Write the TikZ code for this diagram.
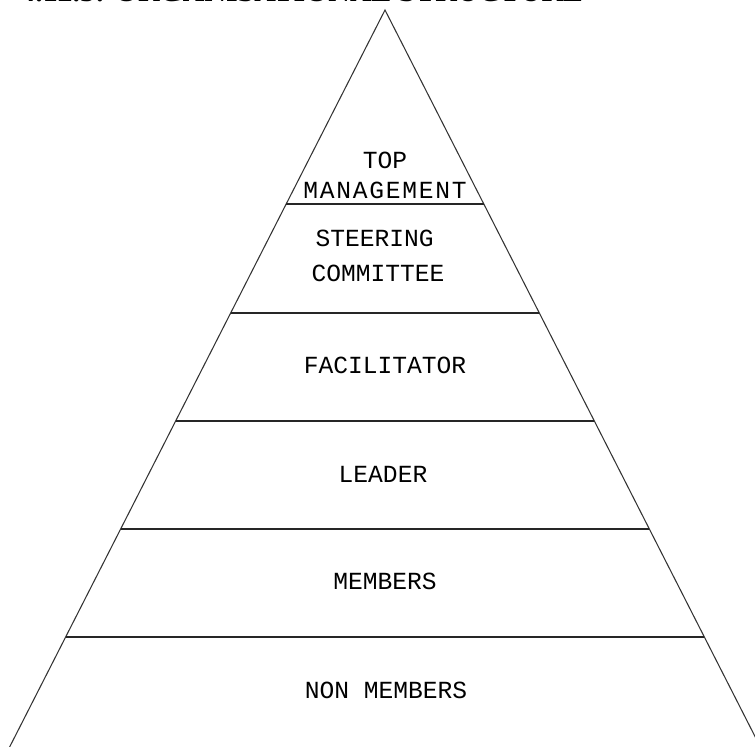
\documentclass[tikz,border=0pt]{standalone}
\usepackage{fontspec}
\setmainfont{Liberation Serif}
\newfontfamily\tierfont{Liberation Mono}
\usetikzlibrary{positioning}

\begin{document}
\begin{tikzpicture}[x=0.02cm, y=-0.02cm,
  side/.style ={line width=.6pt, draw=black!80},
  tier/.style ={line width=1pt, draw=black!85},
  lvl/.style  ={font=\tierfont\fontsize{14}{14}\selectfont, inner sep=0pt},
  ttl/.style  ={font=\bfseries\fontsize{17}{20}\selectfont, anchor=base west,
                inner sep=0pt}]

  \useasboundingbox (0,0) rectangle (755,747);
  \clip (0,0) rectangle (755,747);

  % --- heading (cut off at the top) --------------------------------------
  \node[ttl] (title) at (20,2) {4.12.5: ORGANISATIONAL STRUCTURE};

  % --- pyramid -----------------------------------------------------------
  \coordinate (apex)  at (385,10);
  \coordinate (baseL) at (3,760);
  \coordinate (baseR) at (767,760);
  \draw[side] (baseL) -- (apex) -- (baseR);

  % --- tier lines --------------------------------------------------------
  \coordinate (t1l) at (286,204); \coordinate (t1r) at (484,204);
  \coordinate (t2l) at (231,313); \coordinate (t2r) at (539,313);
  \coordinate (t3l) at (176,421); \coordinate (t3r) at (594,421);
  \coordinate (t4l) at (121,529); \coordinate (t4r) at (649,529);
  \coordinate (t5l) at (66,637);  \coordinate (t5r) at (704,637);
  \draw[tier] (t1l) -- (t1r);
  \draw[tier] (t2l) -- (t2r);
  \draw[tier] (t3l) -- (t3r);
  \draw[tier] (t4l) -- (t4r);
  \draw[tier] (t5l) -- (t5r);

  % --- tier labels -------------------------------------------------------
  \node[lvl, align=center] (top) at (385,175)
    {TOP\\[3pt]M\kern1ptA\kern1ptN\kern1ptA\kern1ptG\kern1ptE\kern1ptM\kern1ptE\kern1ptN\kern1ptT};
  \node[lvl, align=left]   (steer) at (378,256) {\,STEERING\\[6pt]COMMITTEE};
  \node[lvl] (fac)  at (385,365) {FACILITATOR};
  \node[lvl] (lead) at (383,474) {LEADER};
  \node[lvl] (mem)  at (385,581) {MEMBERS};
  \node[lvl] (non)  at (386,690) {NON MEMBERS};
\end{tikzpicture}
\end{document}
